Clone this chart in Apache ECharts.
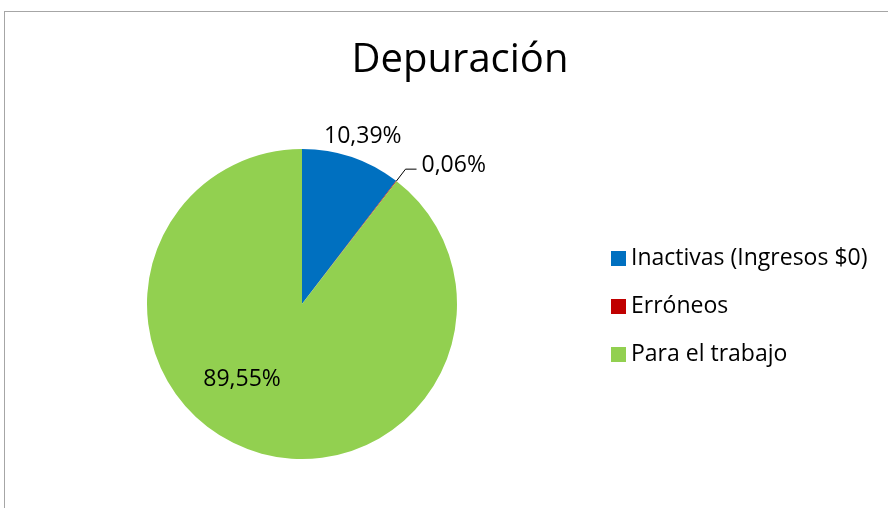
<!DOCTYPE html>
<html>
<head>
<meta charset="utf-8">
<script src="https://cdn.jsdelivr.net/npm/echarts@6/dist/echarts.min.js"></script>
<style>
  html, body { margin: 0; padding: 0; background: #fff; overflow: hidden; }
  #frame { position: absolute; left: 4px; top: 11px; width: 900px; height: 520px; border: 1px solid #a6a6a6; }
  #main { position: absolute; left: 0; top: 0; width: 888px; height: 508px; }
</style>
</head>
<body>
<div id="frame"></div>
<div id="main"></div>
<script>
const categories = ["Inactivas (Ingresos $0)", "Erróneos", "Para el trabajo"];
const values = [10.39, 0.06, 89.55];
const colors = ["#0070C0", "#C00000", "#92D050"];
// label nudges to mimic the original placement
const labelShift = [[35, -91], [0, -4], [-34, -1]];

const fontFamily = "'Open Sans', sans-serif";
const chart = echarts.init(document.getElementById("main"));

const data = values.map((v, i) => {
  const item = { name: categories[i], value: v, itemStyle: { color: colors[i] } };
  if (i === 1) {
    item.label = { position: "outside" };
    item.labelLine = { show: true, length: 15, length2: 11, lineStyle: { color: "#000", width: 1 } };
  } else {
    item.label = { position: "inside" };
    item.labelLine = { show: false };
  }
  return item;
});

chart.setOption({
  animation: false,
  title: {
    text: "Depuración",
    left: 455,
    top: 36,
    textAlign: "center",
    textStyle: { fontFamily, fontSize: 40, fontWeight: "normal", color: "#000" },
  },
  legend: {
    orient: "vertical",
    left: 611,
    top: 247,
    padding: 0,
    itemWidth: 15,
    itemHeight: 15,
    itemGap: 25,
    icon: "rect",
    data: categories,
    textStyle: { fontFamily, fontSize: 23, lineHeight: 23, color: "#000" },
    itemStyle: { borderWidth: 0 },
  },
  series: [
    {
      type: "pie",
      center: [302, 304],
      radius: 155,
      startAngle: 90,
      clockwise: true,
      avoidLabelOverlap: false,
      data,
      label: {
        show: true,
        formatter: (p) => p.value.toFixed(2).replace(".", ",") + "%",
        fontFamily,
        fontSize: 23,
        color: "#000",
        distanceToLabelLine: 5,
      },
      labelLayout: (p) => ({ dx: labelShift[p.dataIndex][0], dy: labelShift[p.dataIndex][1] }),
      emphasis: { disabled: true },
    },
  ],
});
</script>
</body>
</html>
